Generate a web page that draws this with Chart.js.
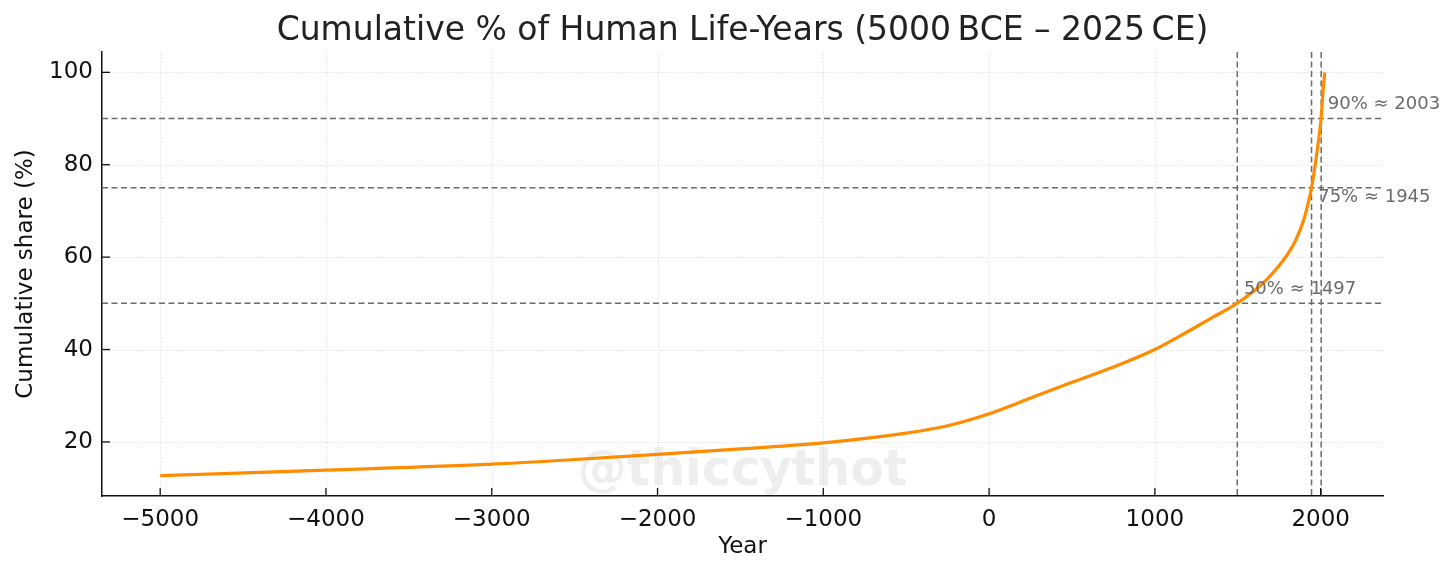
<!DOCTYPE html>
<html>
<head>
<meta charset="utf-8">
<title>Cumulative % of Human Life-Years</title>
<script src="https://cdn.jsdelivr.net/npm/chart.js@4"></script>
<style>
  html, body { margin: 0; padding: 0; background: #fff; }
  #chart { display: block; }
</style>
</head>
<body>
<canvas id="chart" width="1456" height="576"></canvas>
<script>
// Datos
const years = [-5000, -4000, -3000, -2500, -2000, -1500, -1000, -500, -250, 0, 250, 500, 750, 1000,
               1150, 1350, 1500, 1650, 1750, 1800, 1850, 1900, 1930, 1945, 1975, 2000, 2003, 2015, 2025];
const share = [12.7, 13.9, 15.2, 16.2, 17.3, 18.5, 19.8, 21.9, 23.5, 26.1, 29.5, 32.9, 36.2, 40.0,
               42.9, 47.0, 50.1, 54.3, 58.2, 60.6, 63.7, 68.3, 72.5, 75.0, 82.0, 89.0, 90.0, 96.3, 100.0];

// Umbrales marcados
const markPct = [50, 75, 90];
const markYear = [1497, 1945, 2003];
const markText = ['50% \u2248 1497', '75% \u2248 1945', '90% \u2248 2003'];

const xTicks = [-5000, -4000, -3000, -2000, -1000, 0, 1000, 2000];
const yTicks = [20, 40, 60, 80, 100];

const FONT = '"DejaVu Sans", "Liberation Sans", sans-serif';
const fmt = v => (v < 0 ? '\u2212' + Math.abs(v) : String(v));

// Rejilla punteada, marcas, líneas discontinuas, textos
const decor = {
    id: 'decor',
    beforeDatasetsDraw(chart) {
        const { ctx, chartArea: a, scales: { x, y } } = chart;
        ctx.save();
        // grid
        ctx.strokeStyle = '#d6d6d6';
        ctx.lineWidth = 0.8;
        ctx.setLineDash([1, 1.5]);
        x.ticks.forEach(t => {
            const px = Math.round(x.getPixelForValue(t.value)) + 0.5;
            ctx.beginPath(); ctx.moveTo(px, a.top); ctx.lineTo(px, a.bottom); ctx.stroke();
        });
        y.ticks.forEach(t => {
            const py = Math.round(y.getPixelForValue(t.value)) + 0.5;
            ctx.beginPath(); ctx.moveTo(a.left, py); ctx.lineTo(a.right, py); ctx.stroke();
        });
        // watermark
        ctx.setLineDash([]);
        ctx.fillStyle = 'rgba(200,200,200,0.3)';
        ctx.font = 'bold 49px ' + FONT;
        ctx.textAlign = 'center';
        ctx.textBaseline = 'middle';
        ctx.fillText('@thiccythot', (a.left + a.right) / 2, 472);
        // dashed reference lines
        ctx.strokeStyle = '#6b6b6b';
        ctx.lineWidth = 1.5;
        ctx.setLineDash([6, 3.5]);
        markPct.forEach(p => {
            const py = y.getPixelForValue(p);
            ctx.beginPath(); ctx.moveTo(a.left, py); ctx.lineTo(a.right, py); ctx.stroke();
        });
        markYear.forEach(yr => {
            const px = x.getPixelForValue(yr);
            ctx.beginPath(); ctx.moveTo(px, a.top); ctx.lineTo(px, a.bottom); ctx.stroke();
        });
        ctx.restore();
    },
    afterDraw(chart) {
        const { ctx, chartArea: a, scales: { x, y } } = chart;
        ctx.save();
        // inward tick marks
        ctx.strokeStyle = '#111';
        ctx.lineWidth = 1.3;
        x.ticks.forEach(t => {
            const px = x.getPixelForValue(t.value);
            ctx.beginPath(); ctx.moveTo(px, a.bottom); ctx.lineTo(px, a.bottom - 8); ctx.stroke();
        });
        y.ticks.forEach(t => {
            const py = y.getPixelForValue(t.value);
            ctx.beginPath(); ctx.moveTo(a.left, py); ctx.lineTo(a.left + 8, py); ctx.stroke();
        });
        // threshold labels
        ctx.fillStyle = '#6b6b6b';
        ctx.font = '18px ' + FONT;
        ctx.textAlign = 'left';
        ctx.textBaseline = 'alphabetic';
        markText.forEach((txt, i) => {
            const dy = markPct[i] === 75 ? -3.1 : 2;
            ctx.fillText(txt, x.getPixelForValue(markYear[i] + 40), y.getPixelForValue(markPct[i] + dy));
        });
        // title
        ctx.fillStyle = '#222';
        ctx.font = '33px ' + FONT;
        ctx.textAlign = 'center';
        ctx.textBaseline = 'alphabetic';
        ctx.fillText('Cumulative % of Human Life-Years (5000\u2009BCE \u2013 2025\u2009CE)', (a.left + a.right) / 2, 40);
        ctx.restore();
    }
};

new Chart(document.getElementById('chart'), {
    type: 'scatter',
    data: {
        datasets: [{
            label: 'Cumulative share',
            data: years.map((yr, i) => ({ x: yr, y: share[i] })),
            showLine: true,
            borderColor: '#ff8c00',
            borderWidth: 3.2,
            pointRadius: 0,
            cubicInterpolationMode: 'monotone',
            fill: false
        }]
    },
    options: {
        responsive: false,
        animation: false,
        devicePixelRatio: 1,
        layout: { padding: { top: 52, right: 73, left: 0, bottom: 0 } },
        plugins: {
            legend: { display: false },
            title: { display: false },
            tooltip: { enabled: false }
        },
        scales: {
            x: {
                type: 'linear',
                min: -5351,
                max: 2376,
                afterBuildTicks: s => { s.ticks = xTicks.map(v => ({ value: v })); },
                afterFit: s => { s.height = 80; },
                ticks: { callback: fmt, color: '#111', padding: 10, maxRotation: 0, font: { family: FONT, size: 23 } },
                grid: { display: false, drawTicks: false },
                border: { display: true, color: '#111', width: 1.5 },
                title: { display: true, text: 'Year', color: '#111', padding: { top: 0, bottom: 15 }, font: { family: FONT, size: 23 } }
            },
            y: {
                type: 'linear',
                min: 8.3,
                max: 104.4,
                afterBuildTicks: s => { s.ticks = yTicks.map(v => ({ value: v })); },
                afterFit: s => { s.width = 102; },
                ticks: { color: '#111', padding: 9, font: { family: FONT, size: 23 } },
                grid: { display: false, drawTicks: false },
                border: { display: true, color: '#111', width: 1.5 },
                title: { display: true, text: 'Cumulative share (%)', color: '#111', padding: { top: 12, bottom: 0 }, font: { family: FONT, size: 23 } }
            }
        }
    },
    plugins: [decor]
});
</script>
</body>
</html>
